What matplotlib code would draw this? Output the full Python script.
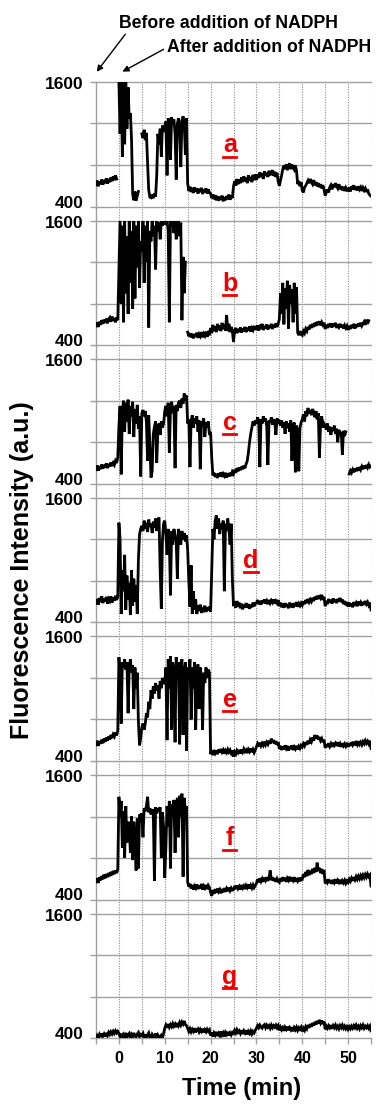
import numpy as np
import matplotlib
matplotlib.use("Agg")
import matplotlib.pyplot as plt
from matplotlib.lines import Line2D

# ---------------- data ----------------
start_time_min = -5.0
sample_interval_min = 0.25
panel_letters = ["a", "b", "c", "d", "e", "f", "g"]
letter_time = [24.2, 24.2, 24.2, 28.8, 24.2, 24.2, 24.2]
y_gridlines = [400, 800, 1200, 1600]
x_major_ticks = [0, 10, 20, 30, 40, 50]
x_minor_ticks = [5, 15, 25, 35, 45, 55]

trace_a = [
    610, 650, 595, 640, 615, 660, 610, 655, 625, 670, 620, 665, 635, 680, 645, 690, 655, 700, 665, None,
    1600, 1100, 1600, 880, 1600, 1000, 1600, 1150, 1550, 1250, 1300, 1050, 520, 460, 545, 455, 500, 545, None, None,
    1100, 1060, 1140, 1040, 1110, 820, 560, 490, 485, 515, 480, 525, 495, 700, 1100, 1000, 1150, 880, 1180, 1120,
    1150, 1220, 700, 1250, 1180, 850, 1260, 1200, 1240, 1100, 660, 1200, 1250, 1180, 780, 1230, 1270, 1200, 900, 1250,
    620, 550, 590, 540, 580, 530, 585, 545, 575, 525, 570, 540, 580, 520, 565, 535, 575, 525, 565, 535,
    525, 480, 515, 470, 510, 460, 500, 455, 495, 465, 505, 450, 490, 460, 500, 470, 515, 465, 505, 480,
    595, 645, 600, 665, 615, 660, 625, 680, 635, 690, 645, 675, 625, 700, 650, 685, 635, 705, 655, 710,
    655, 710, 675, 730, 685, 720, 665, 740, 695, 725, 685, 745, 700, 730, 750, 695, 735, 685, 725, 640,
    600, 650, 700, 760, 795, 760, 805, 750, 795, 815, 760, 805, 775, 755, 795, 745, 615, 645, 595, 635,
    555, 535, 585, 600, 625, 650, 625, 665, 635, 615, 655, 605, 635, 595, 625, 585, 615, 575, 605, 565,
    505, 535, 565, 535, 585, 605, 565, 615, 585, 625, 595, 575, 615, 565, 595, 555, 590, 550, 580, 555,
    555, 585, 545, 595, 565, 605, 560, 590, 555, 595, 565, 585, 550, 580, 555, 575, 540, 565, 525, 510,
    500,
]

trace_b = [
    585, 620, 575, 625, 595, 640, 605, 645, 615, 655, 610, 650, 665, 625, 675, 635, 660, 620, 665, 640,
    1100, 1600, 800, 1550, 620, 1600, 900, 1450, 700, 1600, 1000, 1500, 750, 1600, 850, 1550, 1150, 1600, 950, 1400,
    1300, 1600, 1000, 1550, 1200, 1600, 570, 1500, 1400, 1600, 1450, 1550, 1130, 1600, 1500, 1580, 1420, 1600, 1550, 1600,
    1600, 1560, 1600, 1500, 620, 1600, 1550, 1600, 1480, 1600, 1420, 1580, 1600, 1450, 1580, 640, 1250, 900, 1200, None,
    525, 485, 515, 475, 510, 465, 505, 480, 520, 470, 505, 485, 525, 475, 510, 490, 530, 480, 515, 495,
    565, 515, 595, 535, 580, 525, 605, 545, 590, 535, 615, 555, 595, 540, 690, 535, 605, 525, 575, 535,
    430, 545, 565, 515, 555, 525, 570, 520, 560, 535, 575, 525, 565, 540, 580, 530, 565, 545, 585, 555,
    555, 590, 540, 595, 555, 605, 545, 585, 560, 600, 550, 590, 565, 605, 555, 595, 570, 610, 575, 605,
    650, 900, 700, 1000, 600, 950, 750, 1020, 560, 980, 800, 940, 620, 1000, 700, 960, 520, 495, 535, 505,
    495, 535, 515, 555, 535, 575, 550, 595, 565, 605, 575, 615, 585, 625, 595, 630, 590, 620, 595, 615,
    555, 595, 565, 605, 575, 610, 570, 605, 580, 615, 565, 600, 575, 605, 570, 595, 560, 590, 565, 585,
    545, 585, 555, 595, 565, 605, 560, 600, 575, 610, 580, 615, 585, 605, 625, 595, 645, 605, 635, None,
    490,
]

trace_c = [
    535, 575, 525, 570, 540, 585, 545, 580, 555, 595, 550, 590, 565, 605, 570, 600, 580, 620, 600, 650,
    950, 1150, 490, 1100, 1200, 900, 1180, 1000, 1210, 880, 1150, 1050, 1190, 850, 1120, 980, 1160, 930, 1050, 470,
    1080, 1110, 1050, 1100, 990, 620, 1060, 780, 460, 520, 880, 950, 1000, 600, 920, 980, 870, 1000, 940, 980,
    1100, 1150, 1050, 1180, 700, 1120, 1190, 1080, 1150, 550, 1160, 1100, 1180, 1200, 1130, 1220, 1170, 1270, 1200, 1250,
    980, 1020, 560, 1000, 1060, 940, 1030, 980, 1050, 900, 1010, 540, 1000, 960, 1030, 850, 990, 940, 1000, 870,
    900, 650, 480, 505, 465, 495, 455, 500, 470, 510, 465, 495, 475, 505, 460, 500, 470, 505, 475, 515,
    495, 535, 505, 550, 520, 555, 530, 565, 540, 575, 550, 590, 620, 700, 800, 880, 940, 1000, 960, 1010,
    980, 1040, 1000, 560, 1020, 980, 1050, 1000, 1030, 950, 580, 1010, 990, 1040, 970, 1020, 1000, 870, 1030, 990,
    1000, 960, 1010, 940, 990, 880, 1000, 960, 980, 900, 1010, 620, 950, 990, 510, 960, 900, 520, 940, 990,
    1020, 1070, 1000, 1100, 1050, 1130, 1080, 1110, 1060, 1120, 1090, 1040, 1100, 1020, 1080, 650, 990, 1050, 940, 980,
    960, 920, 980, 900, 950, 870, 940, 910, 960, 880, 930, 800, 920, 870, 900, 680, 910, 860, 900, None,
    None, 495, 525, 505, 535, 510, 545, 520, 555, 525, 560, 535, 565, 540, 575, 545, 580, 555, 585, 560,
    570,
]

trace_d = [
    585, 625, 570, 635, 595, 650, 585, 630, 600, 645, 580, 625, 605, 650, 590, 635, 610, 655, 615, 645,
    1360, 1200, 480, 900, 700, 1050, 520, 850, 620, 780, 470, 900, 560, 820, 600, 760, 480, 1000, 1250, 1300,
    1330, 1280, 1380, 1300, 1360, 1270, 1390, 1320, 1350, 1260, 1370, 1310, 1400, 1280, 1380, 1410, 900, 530, 1200, 1350,
    1380, 1250, 1050, 1300, 1200, 660, 1280, 1150, 1300, 1250, 1180, 820, 1300, 1220, 1150, 1280, 1200, 1260, 1180, 1240,
    1100, 800, 550, 950, 480, 700, 520, 620, 480, 560, 510, 570, 490, 540, 520, 560, 500, 545, 515, 550,
    500, 900, 1300, 1200, 1380, 1430, 1300, 1400, 1250, 1350, 1300, 1380, 700, 1350, 1280, 1400, 1300, 1150, 1350, 820,
    555, 595, 540, 605, 555, 590, 535, 580, 525, 570, 545, 585, 540, 575, 530, 570, 545, 590, 555, 580,
    585, 615, 575, 605, 570, 610, 585, 620, 580, 605, 575, 615, 585, 610, 590, 620, 580, 605, 585, 615,
    555, 590, 545, 580, 540, 585, 550, 575, 535, 590, 545, 580, 540, 585, 555, 595, 550, 580, 560, 585,
    565, 600, 575, 615, 585, 625, 595, 620, 600, 635, 605, 645, 620, 655, 625, 660, 635, 665, 615, 645,
    555, 605, 575, 625, 590, 615, 580, 630, 595, 620, 585, 625, 600, 635, 595, 620, 575, 605, 565, 595,
    550, 590, 555, 580, 545, 595, 560, 585, 555, 600, 565, 590, 560, 595, 570, 605, 575, 595, 565, 590,
    520,
]

trace_e = [
    555, 595, 545, 590, 565, 605, 570, 615, 585, 625, 595, 635, 605, 650, 620, 655, 635, 675, 645, 690,
    1400, 1250, 760, 1350, 1300, 1380, 1280, 1350, 860, 1300, 1380, 1250, 1320, 900, 1300, 1100, 1250, 780, 550, 620,
    720, 760, 700, 760, 860, 820, 970, 900, 1080, 1000, 1120, 1050, 1150, 1080, 1130, 1000, 1170, 1100, 1200, 1150,
    1150, 1300, 600, 1380, 1100, 1410, 700, 1350, 1250, 580, 1400, 1200, 1350, 560, 1300, 1380, 650, 1250, 1350, 500,
    1300, 1200, 1380, 800, 1300, 1100, 1350, 700, 1250, 1330, 900, 1300, 1200, 700, 1250, 1150, 1300, 1200, 1280, 1250,
    465, 495, 455, 505, 475, 500, 465, 510, 480, 515, 485, 505, 470, 500, 480, 510, 485, 505, 475, 500,
    440, 485, 465, 500, 480, 505, 470, 510, 485, 515, 490, 505, 475, 510, 490, 520, 485, 510, 480, 505,
    535, 565, 540, 575, 545, 570, 550, 585, 555, 580, 560, 595, 565, 615, 575, 600, 565, 590, 555, 580,
    515, 545, 505, 540, 510, 550, 520, 545, 500, 540, 515, 550, 505, 535, 515, 545, 510, 540, 520, 550,
    535, 565, 545, 580, 555, 595, 565, 605, 585, 625, 595, 650, 615, 645, 605, 630, 595, 615, 580, 605,
    525, 560, 535, 570, 540, 565, 535, 575, 550, 570, 545, 580, 540, 565, 535, 570, 545, 565, 540, 560,
    535, 570, 545, 580, 555, 585, 550, 575, 555, 590, 560, 580, 555, 585, 565, 595, 570, 590, 565, 595,
    520,
]

trace_f = [
    570, 605, 560, 615, 585, 625, 595, 640, 605, 645, 615, 655, 625, 665, 635, 675, 645, 680, 655, 690,
    1390, 1200, 1350, 900, 1250, 800, 1300, 950, 1150, 1100, 850, 1200, 780, 1150, 1000, 680, 1180, 700, 1220, 1200,
    1230, 1000, 1280, 1250, 1300, 1390, 1240, 1280, 1220, 1270, 1240, 580, 1290, 1230, 1280, 1250, 1290, 800, 1240, 1100,
    610, 900, 1300, 1100, 1350, 700, 1320, 1200, 1360, 850, 1300, 1380, 1000, 1400, 1200, 1420, 620, 1380, 1250, 1300,
    565, 525, 550, 505, 540, 495, 530, 510, 545, 500, 535, 505, 550, 495, 530, 510, 540, 500, 535, 515,
    470, 435, 490, 455, 500, 465, 505, 475, 495, 460, 500, 470, 510, 475, 505, 480, 515, 485, 510, 490,
    495, 530, 500, 535, 505, 525, 495, 540, 510, 530, 500, 535, 515, 545, 505, 535, 510, 540, 515, 535,
    555, 595, 565, 605, 575, 600, 570, 610, 585, 615, 580, 605, 680, 585, 615, 580, 605, 570, 600, 575,
    565, 605, 575, 615, 580, 610, 570, 605, 585, 620, 575, 610, 585, 615, 570, 605, 580, 610, 575, 600,
    595, 645, 615, 665, 625, 685, 635, 675, 645, 695, 655, 705, 665, 755, 675, 705, 655, 695, 645, 685,
    555, 590, 565, 595, 560, 585, 550, 590, 565, 595, 555, 585, 565, 590, 550, 580, 560, 585, 555, 580,
    565, 595, 575, 605, 580, 615, 590, 620, 595, 625, 600, 630, 605, 635, 610, 640, 615, 645, 620, 635,
    530,
]

trace_g = [
    400, 425, 405, 435, 410, 445, 420, 440, 415, 450, 425, 455, 435, 460, 440, 465, 445, 470, 450, 465,
    445, 415, 440, 405, 435, 415, 450, 410, 430, 445, 405, 435, 415, 450, 420, 410, 440, 455, 415, 435,
    425, 445, 405, 435, 400, 430, 450, 410, 400, 435, 415, 405, 445, 400, 430, 410, 400, 425, 405, 445,
    495, 525, 500, 535, 505, 530, 510, 540, 515, 535, 505, 545, 520, 550, 525, 555, 535, 565, 530, 520,
    495, 465, 490, 460, 485, 465, 495, 455, 480, 490, 460, 485, 465, 490, 455, 480, 460, 485, 465, 480,
    425, 455, 415, 450, 430, 460, 420, 445, 425, 465, 430, 450, 415, 455, 435, 460, 425, 450, 430, 455,
    445, 475, 450, 480, 455, 470, 445, 475, 440, 470, 450, 475, 435, 465, 445, 470, 440, 465, 450, 475,
    495, 520, 500, 525, 505, 495, 520, 530, 500, 525, 505, 520, 495, 525, 500, 520, 505, 525, 500, 520,
    475, 505, 480, 500, 470, 505, 485, 510, 475, 500, 480, 505, 465, 500, 480, 505, 475, 500, 485, 505,
    465, 495, 475, 510, 490, 525, 500, 535, 510, 545, 520, 555, 530, 565, 540, 575, 545, 570, 535, 560,
    485, 515, 495, 520, 500, 525, 490, 520, 500, 525, 495, 515, 490, 520, 500, 525, 495, 515, 490, 510,
    485, 510, 490, 515, 495, 520, 500, 525, 495, 515, 490, 520, 500, 525, 495, 515, 500, 520, 495, 515,
    470,
]

traces = [trace_a, trace_b, trace_c, trace_d, trace_e, trace_f, trace_g]

# ---------------- figure ----------------
W, H = 376, 1104
fig = plt.figure(figsize=(W / 100, H / 100), dpi=100)
fig.patch.set_facecolor("white")

FONT = "Liberation Sans"
GRID = "#a0a0a0"

x_left_px, x_right_px = 96.0, 371.0
top0_px, pitch_px, panel_h_px = 82.0, 138.6, 124.5


def fx(px):
    return px / W


def fy(py):
    return 1 - py / H


# background axes for vertical dotted lines / continuous left spine / x ticks
bg_top = top0_px
bg_bot = top0_px + 6 * pitch_px + panel_h_px
bg = fig.add_axes([fx(x_left_px), fy(bg_bot), fx(x_right_px - x_left_px), (bg_bot - bg_top) / H])
bg.set_xlim(-5, 55)
bg.set_ylim(0, 1)
bg.set_facecolor("none")
for s in ["top", "right", "bottom"]:
    bg.spines[s].set_visible(False)
bg.spines["left"].set_color(GRID)
bg.spines["left"].set_linewidth(1.0)
bg.set_yticks([])
for xv in x_major_ticks + x_minor_ticks:
    bg.axvline(xv, color="#8c8c8c", lw=0.8, linestyle=(0, (1, 1.3)), zorder=0)
bg.set_xticks(x_major_ticks)
bg.set_xticks([-5] + x_minor_ticks, minor=True)
bg.tick_params(axis="x", which="both", length=4, color=GRID, width=1, direction="out", pad=5)
bg.set_xticklabels([str(v) for v in x_major_ticks], fontsize=11.5, fontweight="bold", family=FONT)

for i, (vals, letter, lt) in enumerate(zip(traces, panel_letters, letter_time)):
    top = top0_px + i * pitch_px
    bot = top + panel_h_px
    ax = fig.add_axes([fx(x_left_px), fy(bot), fx(x_right_px - x_left_px), panel_h_px / H])
    ax.set_facecolor("none")
    ax.set_xlim(-5, 55)
    ax.set_ylim(400, 1600)
    for s in ax.spines.values():
        s.set_visible(False)
    ax.set_xticks([])
    ax.set_yticks(y_gridlines)
    ax.tick_params(axis="y", length=4, color=GRID, width=1, labelleft=False)
    for yv in y_gridlines:
        ax.axhline(yv, color=GRID, lw=1.0, zorder=1, clip_on=False)
    v = np.array(vals, dtype=float)
    t = start_time_min + sample_interval_min * np.arange(len(v))
    ax.plot(t, v, color="black", lw=2.0, zorder=3, solid_joinstyle="miter")
    # panel letter with underline
    ax.text(lt, 0.435, letter, transform=ax.get_xaxis_transform(), color="#ee0000",
            fontsize=18, fontweight="bold", family=FONT, ha="center", va="baseline", zorder=4)
    ax.add_line(Line2D([lt - 1.45, lt + 1.45], [0.40, 0.40], transform=ax.get_xaxis_transform(),
                       color="#ee0000", lw=2.0, zorder=4))
    # y labels
    fig.text(fx(84), fy(top + 2.5), "1600", ha="right", va="center", fontsize=12.5,
             fontweight="bold", family=FONT)
    fig.text(fx(84), fy(bot - 3.5), "400", ha="right", va="center", fontsize=12.5,
             fontweight="bold", family=FONT)

fig.text(fx(22), fy(570), "Fluorescence Intensity (a.u.)", rotation=90, ha="center", va="center",
         fontsize=18, fontweight="bold", family=FONT)
fig.text(fx(242), fy(1088), "Time (min)", ha="center", va="center", fontsize=17,
         fontweight="bold", family=FONT)

fig.text(fx(119), fy(23), "Before addition of NADPH", ha="left", va="center", fontsize=12.7,
         fontweight="bold", family=FONT)
fig.text(fx(167), fy(47), "After addition of NADPH", ha="left", va="center", fontsize=12.7,
         fontweight="bold", family=FONT)
fig.add_artist(matplotlib.patches.FancyArrowPatch((fx(127), fy(32)), (fx(95), fy(74)),
               transform=fig.transFigure, arrowstyle="-|>", mutation_scale=9, color="black", lw=1.0))
fig.add_artist(matplotlib.patches.FancyArrowPatch((fx(166), fy(48)), (fx(120), fy(73)),
               transform=fig.transFigure, arrowstyle="-|>", mutation_scale=9, color="black", lw=1.0))

fig.savefig("out.png", dpi=100, facecolor="white")
